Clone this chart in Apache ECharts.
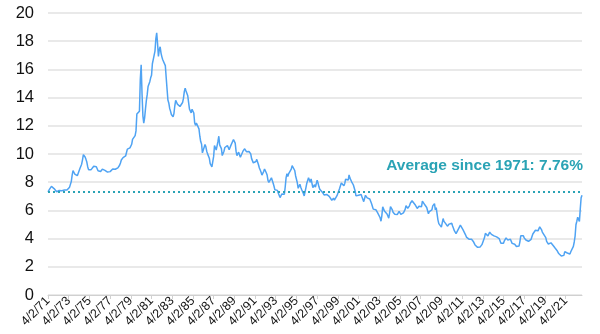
<!DOCTYPE html>
<html><head><meta charset="utf-8">
<script src="https://cdn.jsdelivr.net/npm/echarts/dist/echarts.min.js"></script>
<style>html,body{margin:0;padding:0;background:#fff}#c{width:600px;height:334px}</style>
</head><body><div id="c"></div>
<script>
// Monthly 30-year fixed mortgage rate (%), starting April 1971
const startYear = 1971, startMonth = 4;
const rates1970s = [
  7.31,7.43,7.53,7.60,7.70,7.69,7.63,7.55,7.48,
  7.44,7.32,7.29,7.37,7.41,7.41,7.43,7.40,7.42,7.43,7.44,7.44,
  7.44,7.44,7.46,7.54,7.65,7.73,8.05,8.50,8.82,8.77,8.58,8.54,
  8.54,8.46,8.41,8.58,8.97,9.09,9.28,9.59,9.96,9.98,9.79,9.62,
  9.43,9.10,8.89,8.82,8.91,8.89,8.89,8.94,9.13,9.22,9.15,9.10,
  9.02,8.81,8.76,8.73,8.76,8.85,8.93,8.96,8.92,8.84,8.80,8.79,
  8.72,8.67,8.69,8.75,8.83,8.86,8.94,8.94,8.90,8.92,8.92,8.96,
  9.02,9.15,9.20,9.36,9.57,9.71,9.74,9.78,9.76,9.86,10.11,10.35,
  10.39,10.41,10.43,10.50,10.69,11.04,11.09,11.09,11.30,11.64,12.83,12.90
];
const rates1980s = [
  12.88,13.04,15.28,16.32,14.26,12.71,12.19,12.56,13.20,13.79,14.21,14.79,
  14.90,15.13,15.40,15.58,16.40,16.70,16.83,17.29,18.16,18.60,17.83,16.92,
  17.40,17.60,17.16,16.89,16.68,16.70,16.82,16.27,15.43,14.61,13.83,13.62,
  13.25,13.04,12.80,12.78,12.63,12.87,13.42,13.81,13.73,13.54,13.44,13.42,
  13.37,13.23,13.39,13.65,13.94,14.42,14.67,14.47,14.35,14.13,13.64,13.18,
  13.08,12.92,13.17,13.20,12.91,12.22,12.03,12.19,12.19,12.14,11.78,11.26,
  10.88,10.71,10.08,9.94,10.14,10.68,10.51,10.20,10.01,9.98,9.70,9.32,
  9.20,9.08,9.04,9.83,10.60,10.54,10.28,10.33,10.89,11.26,10.65,10.64,
  10.38,9.89,9.93,10.20,10.46,10.46,10.43,10.60,10.48,10.30,10.27,10.61,
  10.73,10.65,11.03,11.05,10.77,10.20,9.88,9.99,10.13,9.95,9.77,9.74
];
const rates1990s = [
  9.90,10.20,10.27,10.37,10.48,10.16,10.04,10.10,10.18,10.18,10.01,9.67,
  9.64,9.37,9.50,9.49,9.47,9.62,9.58,9.24,9.01,8.86,8.71,8.50,
  8.43,8.76,8.94,8.85,8.67,8.51,8.13,7.98,7.92,8.09,8.31,8.22,
  7.92,7.71,7.46,7.46,7.37,7.42,7.21,7.11,6.91,6.83,7.16,7.17,
  7.06,7.15,7.68,8.32,8.60,8.40,8.61,8.51,8.64,8.93,9.17,9.20,
  9.15,8.83,8.46,8.32,7.96,7.57,7.61,7.86,7.64,7.48,7.38,7.20,
  7.03,7.08,7.62,7.93,8.07,8.32,8.25,8.00,8.23,7.92,7.62,7.60,
  7.82,7.65,7.90,8.14,7.94,7.69,7.50,7.48,7.43,7.29,7.21,7.10,
  6.99,7.04,7.13,7.14,7.14,7.00,6.95,6.92,6.72,6.71,6.87,6.72,
  6.79,6.81,7.04,6.92,7.15,7.55,7.63,7.94,7.82,7.85,7.74,7.91
];
const rates2000s = [
  8.21,8.33,8.24,8.15,8.52,8.29,8.15,8.03,7.91,7.80,7.75,7.38,
  7.03,7.05,6.95,7.08,7.15,7.16,7.13,6.95,6.82,6.62,6.66,7.07,
  7.00,6.89,7.01,6.99,6.81,6.65,6.49,6.29,6.09,6.11,6.07,6.05,
  5.92,5.84,5.75,5.81,5.48,5.23,5.63,6.26,6.15,5.95,5.93,5.88,
  5.74,5.64,5.45,5.83,6.27,6.29,6.06,5.87,5.75,5.72,5.73,5.75,
  5.71,5.63,5.93,5.86,5.72,5.58,5.70,5.82,5.77,6.07,6.33,6.27,
  6.15,6.25,6.32,6.51,6.60,6.68,6.76,6.52,6.40,6.36,6.24,6.14,
  6.22,6.29,6.16,6.18,6.26,6.66,6.70,6.57,6.38,6.38,6.21,6.10,
  5.76,5.92,5.97,5.92,6.04,6.32,6.43,6.48,6.04,6.20,6.09,5.33,
  5.06,5.13,5.00,4.81,4.86,5.42,5.22,5.19,5.06,4.95,4.88,4.93
];
const rates2010s = [
  5.03,4.99,4.97,5.10,4.89,4.74,4.56,4.43,4.35,4.23,4.30,4.71,
  4.76,4.95,4.84,4.84,4.64,4.51,4.55,4.27,4.11,4.07,3.99,3.96,
  3.92,3.89,3.95,3.91,3.80,3.68,3.55,3.60,3.50,3.38,3.35,3.35,
  3.41,3.53,3.57,3.45,3.54,4.07,4.37,4.46,4.49,4.19,4.26,4.46,
  4.43,4.30,4.34,4.34,4.19,4.16,4.13,4.12,4.16,4.04,4.00,3.86,
  3.67,3.71,3.77,3.67,3.84,3.98,4.05,3.91,3.89,3.80,3.94,3.96,
  3.87,3.66,3.69,3.61,3.60,3.57,3.44,3.44,3.46,3.47,3.77,4.20,
  4.15,4.17,4.20,4.05,4.01,3.90,3.97,3.88,3.81,3.90,3.92,3.95,
  4.03,4.33,4.44,4.47,4.59,4.57,4.53,4.55,4.63,4.83,4.87,4.64,
  4.46,4.37,4.27,4.14,4.07,3.80,3.77,3.62,3.61,3.69,3.70,3.72
];
const rates2020s = [
  3.62,3.47,3.45,3.31,3.23,3.16,3.02,2.94,2.89,2.83,2.77,2.68,
  2.74,2.81,3.08,3.06,2.96,2.98,2.87,2.84,2.90,3.07,3.07,3.10,
  3.45,3.76,4.17,4.98,5.23,5.52,5.41,5.22,6.11,6.90,7.08
];
const yTicks = [0, 2, 4, 6, 8, 10, 12, 14, 16, 18, 20];
const averageLabel = "Average since 1971: 7.76%";
const averageLineLevel = 7.3;

const values = [].concat(rates1970s, rates1980s, rates1990s, rates2000s, rates2010s, rates2020s);
const categories = values.map((v, i) => {
  const k = startMonth - 1 + i;
  const m = k % 12 + 1;
  const y = startYear + Math.floor(k / 12);
  return m + '/2/' + String(y % 100).padStart(2, '0');
});

const chart = echarts.init(document.getElementById('c'), null, {renderer: 'canvas'});
chart.setOption({
  animation: false,
  backgroundColor: '#fff',
  grid: {left: 48, right: 18, top: 13, bottom: 39, containLabel: false},
  xAxis: {
    type: 'category',
    data: categories,
    boundaryGap: false,
    axisLine: {show: true, lineStyle: {color: '#d0d0d0', width: 1}},
    axisTick: {show: true, interval: 23, length: 4, lineStyle: {color: '#d0d0d0'}},
    axisLabel: {interval: 23, rotate: 45, fontSize: 12.5, color: '#111', margin: 4,
      fontFamily: 'Liberation Sans, Helvetica, Arial, sans-serif'},
    splitLine: {show: false}
  },
  yAxis: {
    type: 'value',
    min: yTicks[0], max: yTicks[yTicks.length - 1], interval: 2,
    axisLine: {show: false},
    axisTick: {show: false},
    axisLabel: {fontSize: 16.5, color: '#111', margin: 14,
      fontFamily: 'Liberation Sans, Helvetica, Arial, sans-serif'},
    splitLine: {show: true, lineStyle: {color: '#e2e2e2', width: 1.5}}
  },
  series: [{
    type: 'line',
    data: values,
    showSymbol: false,
    symbol: 'none',
    lineStyle: {color: '#4fa3f3', width: 1.5},
    markLine: {
      silent: true,
      symbol: 'none',
      label: {show: false},
      lineStyle: {type: [2, 3], color: '#2aa3b5', width: 2},
      data: [{yAxis: averageLineLevel}]
    }
  }],
  graphic: [{
    type: 'text',
    right: 17,
    top: 158,
    style: {
      text: averageLabel,
      fill: '#2aa3b5',
      font: 'bold 15.5px "Liberation Sans", Helvetica, Arial, sans-serif'
    }
  }]
});
</script>
</body></html>
